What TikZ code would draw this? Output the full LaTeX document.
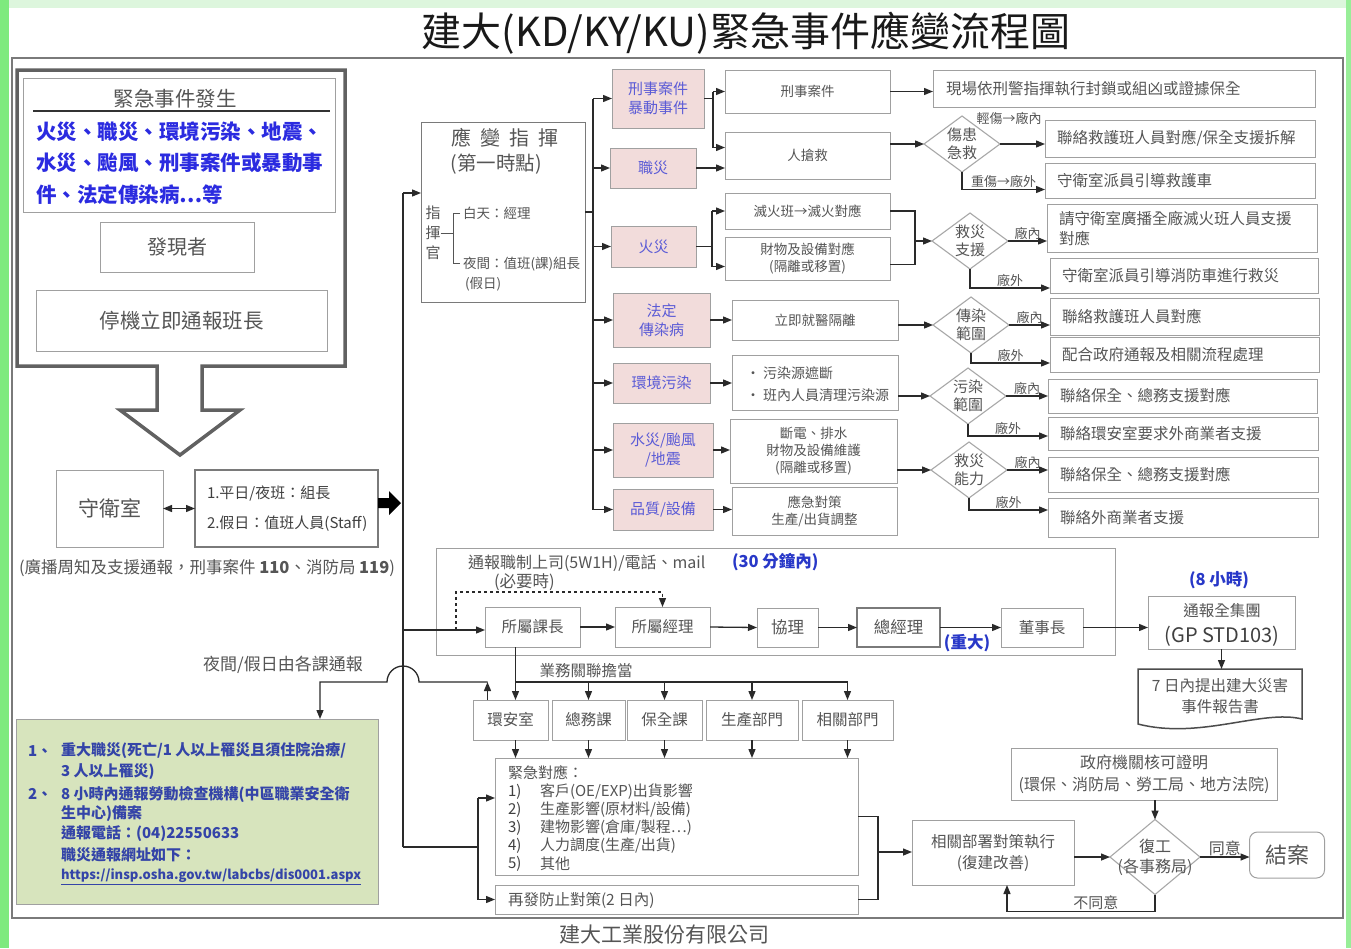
\documentclass[tikz,border=0pt]{standalone}
\usepackage{fontspec}
\setmainfont{Noto Sans CJK TC}
\usetikzlibrary{arrows.meta,shapes.geometric,calc}
\definecolor{txtgray}{HTML}{555555}
\definecolor{darktxt}{HTML}{404040}
\definecolor{boxgray}{HTML}{A0A0A0}
\definecolor{midgray}{HTML}{7A7A7A}
\definecolor{linegray}{HTML}{2A2A2A}
\definecolor{pinkfill}{HTML}{F2DCDB}
\definecolor{catblue}{HTML}{5B5BD6}
\definecolor{evblue}{HTML}{2B2BE0}
\definecolor{lblue}{HTML}{2838C8}
\definecolor{gbfill}{HTML}{D7E4BD}
\definecolor{gbtext}{HTML}{3444A8}
\definecolor{diagray}{HTML}{A8A8A8}
\definecolor{bggreen}{HTML}{DDF6DD}
\definecolor{edgegreen}{HTML}{7EEA7E}
\newcommand\fz[2]{\fontsize{#1}{#2}\selectfont}
\newcommand\bx[7]{\node[#1, minimum width={(#5)-(#3)}, minimum height={(#6)-(#4)}] (#2) at ({((#3)+(#5))/2},{((#4)+(#6))/2}) {#7};}
\tikzset{
  t/.style={inner sep=0pt, outer sep=0pt, text=txtgray, font=\fz{15}{18}},
  gbox/.style={t, rectangle, draw=boxgray, line width=1pt, align=center},
  cat/.style={gbox, fill=pinkfill, text=catblue, font=\fz{15}{19}},
  act/.style={gbox, font=\fz{13.5}{17}},
  rbox/.style={gbox},
  rt/.style={t, font=\fz{15.5}{20}, align=left},
  dia/.style={diamond, draw=diagray, line width=1.1pt, inner sep=0pt, outer sep=0pt, minimum width=76pt, minimum height=56pt},
  dtxt/.style={t, align=center, font=\fz{15}{18}},
  arr/.style={-{Triangle[length=9pt,width=7pt]}, line width=1.3pt, draw=linegray},
  darr/.style={{Triangle[length=9pt,width=7pt]}-{Triangle[length=9pt,width=7pt]}, line width=1.3pt, draw=linegray},
  ln/.style={line width=1.3pt, draw=linegray},
  lbl/.style={t, font=\fz{13}{15}, inner sep=1.5pt},
  bluelbl/.style={t, text=lblue, font=\fz{16.5}{20}\bfseries},
  gbl/.style={t, text=gbtext, font=\fz{15}{18}\bfseries, anchor=west},
}
\begin{document}
\begin{tikzpicture}[x=1pt,y=-1pt]
\useasboundingbox (0,0) rectangle (1351,948);
% background
\fill[bggreen] (0,0) rectangle (1351,948);
\fill[edgegreen] (0,0) rectangle (9,948);
\fill[edgegreen!80] (1346,0) rectangle (1351,948);
\fill[white] (9,8) rectangle (1346,948);
% title and footer
\node[t, text=black!90, font=\fz{40}{44}] (title) at (746,33) {建大(KD/KY/KU)緊急事件應變流程圖};
\node[t, font=\fz{21}{24}] (footer) at (664,935) {建大工業股份有限公司};
% outer frame
\draw[draw=midgray, line width=1.2pt] (12,58) rectangle (1343,918);
% left thick box with hollow arrow
\draw[draw=black!62, line width=3.5pt, line join=miter] (17,70) -- (345,70) -- (345,366) -- (202,366) -- (202,410) -- (240,410) -- (180,455) -- (120,410) -- (157,410) -- (157,366) -- (17,366) -- cycle;
\bx{gbox}{ev}{23}{78}{335}{212}{}
\node[t, font=\fz{20.5}{24}] (evT) at (175,99) {緊急事件發生};
\draw[line width=1.5pt, draw=black!80] (33,111) -- (330,111);
\node[t, anchor=west, text=evblue, font=\fz{20.5}{24}\bfseries] (ev1) at (36,132) {火災、職災、環境污染、地震、};
\node[t, anchor=west, text=evblue, font=\fz{20.5}{24}\bfseries] (ev2) at (36,163) {水災、颱風、刑事案件或暴動事};
\node[t, anchor=west, text=evblue, font=\fz{20.5}{24}\bfseries] (ev3) at (36,195) {件、法定傳染病…等};
\bx{gbox, font=\fz{20}{24}}{find}{100}{222}{254}{272}{發現者}
\bx{gbox, font=\fz{20.5}{24}}{stop}{36}{290}{327}{351}{停機立即通報班長}
% guard & staff
\bx{gbox, font=\fz{21}{24}}{guard}{56}{470}{163}{547}{守衛室}
\bx{gbox, draw=midgray, line width=1.3pt}{staff}{195}{470}{378}{547}{}
\node[t, anchor=west, text=darktxt] (st1) at (207,493) {1.平日/夜班：組長};
\node[t, anchor=west, text=darktxt] (st2) at (207,524) {2.假日：值班人員(Staff)};
\draw[darr] (guard.east) -- (staff.west);
\coordinate (ba) at (378,503);
\fill[black] (ba) ++(0,-5) -- ++(11,0) -- ++(0,-7) -- ++(12,12) -- ++(-12,12) -- ++(0,-7) -- ++(-11,0) -- cycle;
\node[t, font=\fz{16.5}{20}] (gnote) at (207,568) {(廣播周知及支援通報，刑事案件 {\bfseries 110}、消防局 {\bfseries 119})};
% command box
\bx{gbox, draw=midgray}{cmd}{421}{122}{585}{302}{}
\node[t, font=\fz{20}{24}] (cmdT) at (505,138) {應\hspace{9pt}變\hspace{9pt}指\hspace{9pt}揮};
\node[t, font=\fz{19.5}{24}] (cmdT2) at (496,164) {(第一時點)};
\node[t, font=\fz{15}{16}] (z1) at (433,213) {指};
\node[t, font=\fz{15}{16}] (z2) at (433,233) {揮};
\node[t, font=\fz{15}{16}] (z3) at (433,253) {官};
\draw[line width=1pt, draw=txtgray] (z2.east) -- (453,233);
\draw[line width=1pt, draw=txtgray] (460,213) -- (453,213) -- (453,263) -- (460,263);
\node[t, anchor=west, font=\fz{13.5}{16}] (day) at (463,213) {白天：經理};
\node[t, anchor=west, font=\fz{13.5}{16}] (night) at (463,264) {夜間：值班(課)組長};
\node[t, anchor=west, font=\fz{13.5}{16}] (hol) at (465,284) {(假日)};
% categories
\bx{cat}{c1}{612}{69}{704}{128}{刑事案件\\暴動事件}
\bx{cat}{c2}{610}{148}{696}{188}{職災}
\bx{cat}{c3}{611}{226}{696}{267}{火災}
\bx{cat}{c4}{613}{293}{710}{347}{法定\\傳染病}
\bx{cat}{c5}{613}{363}{710}{403}{環境污染}
\bx{cat}{c6}{613}{423}{713}{477}{水災/颱風\\/地震}
\bx{cat}{c7}{613}{489}{713}{530}{品質/設備}
% actions
\bx{act}{a1}{725}{70}{890}{113}{刑事案件}
\bx{act}{a2}{725}{132}{890}{179}{人搶救}
\bx{act}{a3}{725}{193}{890}{229}{滅火班→滅火對應}
\bx{act}{a4}{725}{237}{890}{280}{財物及設備對應\\(隔離或移置)}
\bx{act}{a5}{732}{300}{898}{340}{立即就醫隔離}
\bx{act}{a6}{732}{355}{898}{410}{}
\node[t, anchor=west, font=\fz{14}{17}] (a6l1) at (746,373) {•\hspace{3pt}污染源遮斷};
\node[t, anchor=west, font=\fz{14}{17}] (a6l2) at (746,395) {•\hspace{3pt}班內人員清理污染源};
\bx{act}{a7}{730}{419}{897}{483}{斷電、排水\\財物及設備維護\\(隔離或移置)}
\bx{act}{a8}{732}{487}{897}{535}{應急對策\\生產/出貨調整}
% diamonds
\node[dia] (d1) at (962,144) {};
\node[dtxt] at (d1) {傷患\\急救};
\node[dia] (d2) at (970,241) {};
\node[dtxt] at (d2) {救災\\支援};
\node[dia] (d3) at (971,325) {};
\node[dtxt] at (d3) {傳染\\範圍};
\node[dia] (d4) at (968,396) {};
\node[dtxt] at (d4) {污染\\範圍};
\node[dia] (d5) at (969,470) {};
\node[dtxt] at (d5) {救災\\能力};
% result boxes
\bx{rbox}{r1}{933}{70}{1315}{107}{}
\bx{rbox}{r2}{1045}{120}{1315}{157}{}
\bx{rbox}{r3}{1045}{163}{1315}{198}{}
\bx{rbox}{r4}{1047}{204}{1317}{252}{}
\bx{rbox}{r5}{1050}{258}{1318}{293}{}
\bx{rbox}{r6}{1050}{298}{1319}{335}{}
\bx{rbox}{r7}{1050}{337}{1319}{372}{}
\bx{rbox}{r8}{1048}{379}{1317}{413}{}
\bx{rbox}{r9}{1048}{417}{1318}{450}{}
\bx{rbox}{r10}{1048}{457}{1318}{492}{}
\bx{rbox}{r11}{1048}{498}{1318}{537}{}
\node[rt, anchor=west] at ([xshift=13pt]r1.west) {現場依刑警指揮執行封鎖或組凶或證據保全};
\node[rt, anchor=west] at ([xshift=12pt]r2.west) {聯絡救護班人員對應/保全支援拆解};
\node[rt, anchor=west] at ([xshift=12pt]r3.west) {守衛室派員引導救護車};
\node[rt, anchor=west] at ([xshift=12pt]r4.west) {請守衛室廣播全廠滅火班人員支援\\對應};
\node[rt, anchor=west] at ([xshift=12pt]r5.west) {守衛室派員引導消防車進行救災};
\node[rt, anchor=west] at ([xshift=12pt]r6.west) {聯絡救護班人員對應};
\node[rt, anchor=west] at ([xshift=12pt]r7.west) {配合政府通報及相關流程處理};
\node[rt, anchor=west] at ([xshift=12pt]r8.west) {聯絡保全、總務支援對應};
\node[rt, anchor=west] at ([xshift=12pt]r9.west) {聯絡環安室要求外商業者支援};
\node[rt, anchor=west] at ([xshift=12pt]r10.west) {聯絡保全、總務支援對應};
\node[rt, anchor=west] at ([xshift=12pt]r11.west) {聯絡外商業者支援};
% main bus
\coordinate (busTop) at (403,193);
\coordinate (busBot) at (403,847);
\coordinate (busMid) at (403,630);
\draw[ln] (busBot) -- (busTop);
\draw[arr] (busTop) -- (busTop -| cmd.west);
% category bus
\coordinate (cb) at (593,0);
\draw[ln] (cmd.east) -- (cmd.east -| cb);
\draw[ln] (cb |- c1.west) -- (cb |- c7.west);
\foreach \c in {c1,c2,c3,c4,c5,c6,c7} \draw[arr] (cb |- \c.west) -- (\c.west);
% category -> actions
\coordinate (s1) at (713,0);
\draw[ln] (c1.east) -- (s1 |- c1.east);
\draw[arr] (s1 |- a1.west) -- (a1.west);
\draw[arr] (s1 |- a1.west) |- ([yshift=8pt]a2.west);
\draw[arr] (c2.east) -- (c2.east -| a2.west);
\coordinate (s3) at (712,0);
\draw[ln] (c3.east) -- (s3 |- c3.east);
\draw[arr] (s3 |- a3.west) -- (a3.west);
\draw[arr] (s3 |- a3.west) |- ([yshift=-8pt]a4.west);
\draw[arr] (c4.east) -- (c4.east -| a5.west);
\draw[arr] (c5.east) -- (c5.east -| a6.west);
\draw[arr] (c6.east) -- (c6.east -| a7.west);
\draw[arr] (c7.east) -- (c7.east -| a8.west);
% actions -> diamonds / results
\draw[arr] (a1.east) -- (a1.east -| r1.west);
\draw[arr] (a2.east |- d1.west) -- (d1.west);
\coordinate (j2) at (915,0);
\draw[ln] (a3.east) -- (a3.east -| j2) -- ([yshift=-6pt]a4.east -| j2) -- ([yshift=-6pt]a4.east);
\draw[arr] (d2.west -| j2) -- (d2.west);
\draw[arr] (a5.east |- d3.west) -- (d3.west);
\draw[arr] (a6.east |- d4.west) -- (d4.west);
\draw[arr] (a7.east |- d5.west) -- (d5.west);
% diamonds -> results
\draw[arr] (d1.east) -- (d1.east -| r2.west);
\node[lbl] at (1009,118) {輕傷→廠內};
\draw[arr] (d1.south) |- node[pos=.75,above,lbl]{重傷→廠外} ([yshift=-9pt]r3.west);
\draw[arr] (d2.east) -- node[above,lbl]{廠內} (d2.east -| r4.west);
\draw[arr] (d2.south) |- node[pos=.75,above,lbl]{廠外} ([yshift=-12.5pt]r5.west);
\draw[arr] (d3.east) -- node[above,lbl]{廠內} (d3.east -| r6.west);
\draw[arr] (d3.south) |- node[pos=.75,above,lbl]{廠外} ([yshift=-8.5pt]r7.west);
\draw[arr] (d4.east) -- node[above,lbl]{廠內} (d4.east -| r8.west);
\draw[arr] (d4.south) |- node[pos=.75,above,lbl]{廠外} ([yshift=-2.5pt]r9.west);
\draw[arr] (d5.east) -- node[above,lbl]{廠內} (d5.east -| r10.west);
\draw[arr] (d5.south) |- node[pos=.75,above,lbl]{廠外} ([yshift=7.5pt]r11.west);
% notification container
\bx{gbox}{ntf}{436}{548}{1115}{655}{}
\node[t, anchor=west, font=\fz{16}{19}] (ntfT) at (468,563) {通報職制上司(5W1H)/電話、mail};
\node[bluelbl, anchor=west] (m30) at (732,562) {(30 分鐘內)};
\node[t, anchor=west, font=\fz{16.5}{19}] (need) at (494,582) {(必要時)};
\bx{gbox, font=\fz{15.5}{18}}{kz}{485}{607}{580}{647}{所屬課長}
\bx{gbox, font=\fz{15.5}{18}}{jl}{615}{607}{710}{647}{所屬經理}
\bx{gbox, font=\fz{16.5}{18}}{xl}{757}{608}{818}{647}{協理}
\bx{gbox, draw=midgray, line width=1.3pt, font=\fz{16.5}{18}}{zj}{857}{608}{940}{647}{總經理}
\bx{gbox, font=\fz{15.5}{18}}{dsz}{1001}{608}{1083}{647}{董事長}
\node[bluelbl] (big) at (967,643) {(重大)};
\bx{gbox}{gq}{1148}{596}{1295}{649}{}
\node[t, font=\fz{15.5}{18}] (gq1) at (1222,611) {通報全集團};
\node[t, text=darktxt, font=\fz{20}{22}] (gq2) at (1222,636) {(GP STD103)};
\node[bluelbl] (h8) at (1219,580) {(8 小時)};
\coordinate (repTop) at (1220,669);
\draw[line width=1.5pt, draw=black!70] (1138,669) -- (1302,669) -- (1302,719) .. controls (1262,709) and (1200,740) .. (1138,724) -- cycle;
\node[t, align=center, font=\fz{15.5}{21}] (rep) at (1220,696) {7 日內提出建大災害\\事件報告書};
\coordinate (dsh) at (456,630);
\draw[arr] (busMid) -- (busMid -| kz.west);
\draw[arr, dashed] (dsh) -- (456,592) -| (jl.north);
\draw[arr] (kz.east) -- (jl.west);
\draw[arr] (jl.east) -- (xl.west);
\draw[arr] (xl.east) -- (zj.west);
\draw[arr] (zj.east) -- (dsz.west);
\draw[arr] (dsz.east) -- (dsz.east -| gq.west);
\draw[arr] (gq.south) -- (gq.south |- repTop);
% department row
\bx{gbox, font=\fz{15.5}{18}}{hs}{473}{700}{548}{740}{環安室}
\bx{gbox, font=\fz{15.5}{18}}{zw}{552}{700}{625}{740}{總務課}
\bx{gbox, font=\fz{15.5}{18}}{bq}{627}{700}{702}{740}{保全課}
\bx{gbox, font=\fz{15.5}{18}}{sc}{706}{700}{798}{740}{生產部門}
\bx{gbox, font=\fz{15.5}{18}}{rd}{802}{700}{893}{740}{相關部門}
\node[t, font=\fz{15.5}{18}] (ywl) at (586,671) {業務關聯擔當};
\draw[arr] ([xshift=-17pt]kz.south) -- ([xshift=-17pt]kz.south |- hs.north);
\coordinate (bl) at (515.5,682);
\draw[ln] (bl) -- (bl -| rd.north);
\foreach \n in {zw,bq,sc,rd} \draw[arr] (bl -| \n.north) -- (\n.north);
% emergency response boxes
\bx{gbox}{em}{495}{758}{858}{875}{}
\node[t, anchor=west] (em0) at (508,773) {緊急對應：};
\node[t, anchor=west, text=darktxt] at (508,792) {1)};
\node[t, anchor=west, text=darktxt] at (508,810) {2)};
\node[t, anchor=west, text=darktxt] at (508,828) {3)};
\node[t, anchor=west, text=darktxt] at (508,846) {4)};
\node[t, anchor=west, text=darktxt] at (508,864) {5)};
\node[t, anchor=west] (em1) at (540,792) {客戶(OE/EXP)出貨影響};
\node[t, anchor=west] (em2) at (540,810) {生產影響(原材料/設備)};
\node[t, anchor=west] (em3) at (540,828) {建物影響(倉庫/製程…)};
\node[t, anchor=west] (em4) at (540,846) {人力調度(生產/出貨)};
\node[t, anchor=west] (em5) at (540,864) {其他};
\bx{gbox}{re}{495}{885}{858}{914}{}
\node[t, anchor=west, font=\fz{15.5}{18}] (reT) at (508,900) {再發防止對策(2 日內)};
\draw[arr] ([xshift=5pt]hs.south) -- ([xshift=5pt]hs.south |- em.north);
\foreach \n in {zw,bq,sc,rd} \draw[arr] (\n.south) -- (\n.south |- em.north);
\coordinate (b2) at (478,847);
\coordinate (e1) at (478,798);
\draw[ln] (busBot) -- (b2);
\draw[ln] (e1) -- (b2 |- re.west);
\draw[arr] (e1) -- (e1 -| em.west);
\draw[arr] (b2 |- re.west) -- (re.west);
% up arrow from 環安室 and hop to green box
\draw[arr] ([xshift=-23pt]hs.north) -- ++(0,-18);
\coordinate (hopR) at (487.5,682);
\coordinate (hopL) at (320,682);
\coordinate (gbTop) at (320,719);
\draw[arr] (hopR) -- (419,682) arc[start angle=0, end angle=-180, radius=16] -- (hopL) -- (gbTop);
\node[t, font=\fz{17}{20}] (nightlbl) at (283,665) {夜間/假日由各課通報};
% green box
\bx{gbox, fill=gbfill, draw=boxgray}{gb}{16}{719}{378}{904}{}
\node[gbl] at (28,751) {1、};
\node[gbl] at (61,751) {重大職災(死亡/1 人以上罹災且須住院治療/};
\node[gbl] at (61,772) {3 人以上罹災)};
\node[gbl] at (28,794) {2、};
\node[gbl] at (61,794) {8 小時內通報勞動檢查機構(中區職業安全衛};
\node[gbl] at (61,814) {生中心)備案};
\node[gbl] at (61,834) {通報電話：(04)22550633};
\node[gbl] at (61,855) {職災通報網址如下：};
\node[gbl, font=\fz{13}{17}\bfseries] at (61,877) {\underline{https://insp.osha.gov.tw/labcbs/dis0001.aspx}};
% closing section
\bx{gbox, align=center, font=\fz{15.5}{21}}{xg}{912}{820}{1074}{885}{相關部署對策執行\\(復建改善)}
\bx{gbox, align=center, font=\fz{16}{22}}{gov}{1011}{748}{1277}{800}{政府機關核可證明\\(環保、消防局、勞工局、地方法院)}
\node[dia, minimum width=90pt, minimum height=75pt] (d6) at (1155,857) {};
\node[dtxt, font=\fz{16}{20}] at (d6) {復工\\(各事務局)};
\node[gbox, rounded corners=8pt, minimum width=75pt, minimum height=46pt, font=\fz{22}{24}] (ja) at (1287,855) {結案};
\coordinate (jn) at (878,852);
\draw[ln] (em.east) -| (jn);
\draw[ln] (re.east) -| (jn);
\draw[arr] (jn) -- (jn -| xg.west);
\draw[arr] (xg.east |- d6.west) -- (d6.west);
\draw[arr] (d6.north |- gov.south) -- (d6.north);
\draw[arr] (d6.east) -- node[above, lbl, font=\fz{16}{18}]{同意} (ja.west |- d6.east);
\draw[arr] (d6.south) -- ++(0,17) -| node[pos=.2, above, lbl, font=\fz{15}{18}]{不同意} ([xshift=14pt]xg.south);
\end{tikzpicture}
\end{document}
